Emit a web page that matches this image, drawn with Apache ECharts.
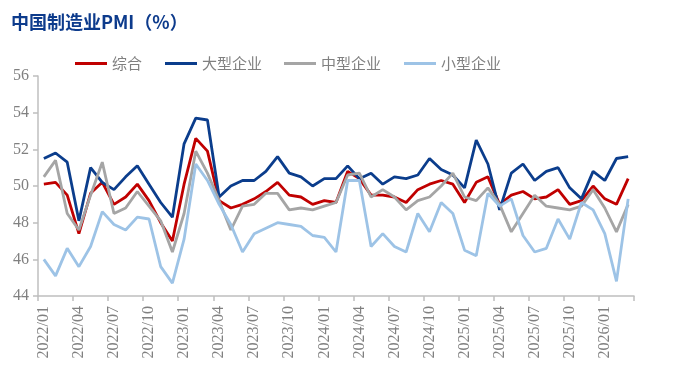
<!DOCTYPE html>
<html>
<head>
<meta charset="utf-8">
<script src="https://cdn.jsdelivr.net/npm/echarts@6/dist/echarts.min.js"></script>
<style>
html,body{margin:0;padding:0;background:#fff;}
#c{width:675px;height:375px;}
</style>
</head>
<body>
<div id="c"></div>
<script>
var categories = [
  '2022/01','2022/02','2022/03','2022/04','2022/05','2022/06','2022/07','2022/08','2022/09','2022/10','2022/11','2022/12',
  '2023/01','2023/02','2023/03','2023/04','2023/05','2023/06','2023/07','2023/08','2023/09','2023/10','2023/11','2023/12',
  '2024/01','2024/02','2024/03','2024/04','2024/05','2024/06','2024/07','2024/08','2024/09','2024/10','2024/11','2024/12',
  '2025/01','2025/02','2025/03','2025/04','2025/05','2025/06','2025/07','2025/08','2025/09','2025/10','2025/11','2025/12',
  '2026/01','2026/02','2026/03'
];
var seriesNames = ['综合','大型企业','中型企业','小型企业'];
var composite = [
  50.1,50.2,49.5,47.4,49.6,50.2,49.0,49.4,50.1,49.2,48.0,47.0,
  50.1,52.6,51.9,49.2,48.8,49.0,49.3,49.7,50.2,49.5,49.4,49.0,
  49.2,49.1,50.8,50.4,49.5,49.5,49.4,49.1,49.8,50.1,50.3,50.1,
  49.1,50.2,50.5,49.0,49.5,49.7,49.3,49.4,49.8,49.0,49.2,50.0,
  49.3,49.0,50.4
];
var large = [
  51.5,51.8,51.3,48.1,51.0,50.2,49.8,50.5,51.1,50.1,49.1,48.3,
  52.3,53.7,53.6,49.4,50.0,50.3,50.3,50.8,51.6,50.7,50.5,50.0,
  50.4,50.4,51.1,50.4,50.7,50.1,50.5,50.4,50.6,51.5,50.9,50.6,
  49.9,52.5,51.2,48.7,50.7,51.2,50.3,50.8,51.0,49.9,49.3,50.8,
  50.3,51.5,51.6
];
var medium = [
  50.5,51.4,48.5,47.6,49.5,51.3,48.5,48.8,49.7,48.9,48.1,46.4,
  48.5,51.9,50.7,49.2,47.6,48.9,49.0,49.6,49.6,48.7,48.8,48.7,
  48.9,49.1,50.6,50.7,49.4,49.8,49.4,48.7,49.2,49.4,50.0,50.7,
  49.4,49.2,49.9,49.0,47.5,48.5,49.5,48.9,48.8,48.7,48.9,49.8,
  48.8,47.5,49.0
];
var small = [
  46.0,45.1,46.6,45.6,46.7,48.6,47.9,47.6,48.3,48.2,45.6,44.7,
  47.1,51.2,50.3,49.0,47.9,46.4,47.4,47.7,48.0,47.9,47.8,47.3,
  47.2,46.4,50.3,50.3,46.7,47.4,46.7,46.4,48.5,47.5,49.1,48.5,
  46.5,46.2,49.6,48.9,49.3,47.3,46.4,46.6,48.2,47.1,49.1,48.7,
  47.4,44.8,49.3
];
var colors = ['#C00000','#0B3D8C','#A5A5A5','#9DC3E6'];
var allData = [composite, large, medium, small];
var legendLefts = [70, 160, 279, 399];

var chart = echarts.init(document.getElementById('c'), null, {renderer:'canvas'});
var option = {
  animation: false,
  backgroundColor: '#ffffff',
  title: {
    text: '中国制造业PMI（%）',
    left: 6, top: 8,
    textStyle: {fontFamily: 'Noto Sans CJK SC', fontSize: 18, fontWeight: 'bold', color: '#0D3B8C'}
  },
  legend: seriesNames.map(function(n, i){
    return {
      data: [n], left: legendLefts[i], top: 51,
      icon: 'rect', itemWidth: 32, itemHeight: 3, itemGap: 5,
      textStyle: {fontFamily: 'Noto Sans CJK SC', fontSize: 15, color: '#808080'}
    };
  }),
  grid: {left: 38, right: 41, top: 76, bottom: 79, containLabel: false},
  xAxis: {
    type: 'category',
    data: categories,
    boundaryGap: true,
    axisLine: {show: true, lineStyle: {color: '#BFBFBF', width: 1.5}},
    axisTick: {show: true, interval: 2, length: 5, lineStyle: {color: '#BFBFBF', width: 1.5}},
    axisLabel: {interval: 2, rotate: 90, margin: 10, fontFamily: 'Liberation Serif', fontSize: 16, color: '#808080'},
    splitLine: {show: false}
  },
  yAxis: {
    type: 'value',
    min: 44, max: 56, interval: 2,
    axisLine: {show: true, lineStyle: {color: '#BFBFBF', width: 1.5}},
    axisTick: {show: true, length: 5, lineStyle: {color: '#BFBFBF', width: 1.5}},
    axisLabel: {margin: 9, fontFamily: 'Liberation Serif', fontSize: 16, color: '#808080'},
    splitLine: {show: false}
  },
  series: seriesNames.map(function(n, i){
    return {
      name: n, type: 'line', data: allData[i],
      symbol: 'none', smooth: false,
      lineStyle: {color: colors[i], width: 2.8},
      itemStyle: {color: colors[i]}
    };
  })
};
chart.setOption(option);
</script>
</body>
</html>
